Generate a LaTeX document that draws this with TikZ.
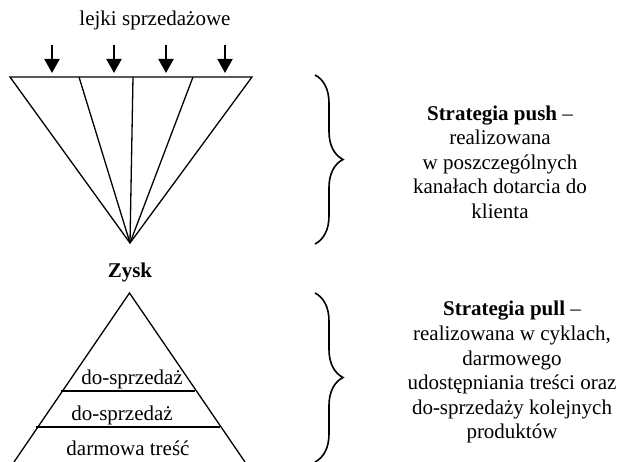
\documentclass[tikz,border=0pt]{standalone}
\usepackage{fontspec}
\setmainfont{Liberation Serif}
\usetikzlibrary{arrows.meta,decorations.pathreplacing}
\tikzset{
  shape line/.style={line width=1.3pt, line join=miter},
  down arrow/.style={line width=2pt, -{Triangle[width=15pt,length=14pt]}},
  strategy brace/.style={line width=1.6pt, decorate, decoration={brace, amplitude=28pt}},
  label text/.style={inner sep=0pt, font=\fontsize{21}{24.6}\selectfont},
  block text/.style={inner sep=0pt, align=center, font=\fontsize{21}{24.6}\selectfont},
}
\begin{document}
\begin{tikzpicture}[x=1pt,y=-1pt]
\useasboundingbox (0,0) rectangle (622,462);
% title
\node[label text, anchor=base] (title) at (155,26) {lejki sprzedażowe};
% arrows
\foreach \i/\x in {1/52,2/114,3/166,4/225}{
  \coordinate (a\i s) at (\x,45);
  \coordinate (a\i e) at (\x,73);
  \draw[down arrow] (a\i s) -- (a\i e);
}
% funnel
\coordinate (fL) at (10,77);
\coordinate (fR) at (252,77);
\coordinate (f1) at (79,77);
\coordinate (f2) at (133,77);
\coordinate (f3) at (193,77);
\coordinate (fA) at (130,243);
\draw[shape line] (fL) -- (fR) -- (fA) -- cycle;
\draw[shape line] (f1) -- (fA);
\draw[shape line] (f2) -- (fA);
\draw[shape line] (f3) -- (fA);
% pyramid
\node[label text, anchor=base, font=\fontsize{21}{24.6}\selectfont\bfseries] (zysk) at (130,278) {Zysk};
\coordinate (pA) at (129.5,293);
\coordinate (pL) at (14,462);
\coordinate (pR) at (245,462);
\draw[shape line] (pL) -- (pA) -- (pR);
\draw[shape line] (61,391) -- (195,391);
\draw[shape line] (36,427) -- (220,427);
\node[label text, anchor=base] (ds1) at (132,385) {do-sprzedaż};
\node[label text, anchor=base] (ds2) at (122,421) {do-sprzedaż};
\node[label text, anchor=base] (dt) at (128,456) {darmowa treść};
% braces
\coordinate (b1t) at (315,75);
\coordinate (b1b) at (315,244);
\coordinate (b2t) at (315,293);
\coordinate (b2b) at (315,462);
\draw[strategy brace] (b1t) -- (b1b);
\draw[strategy brace] (b2t) -- (b2b);
% texts (base anchor = baseline of the last line)
\node[block text, anchor=base] (push) at (500,218.5) {\textbf{Strategia push} –\\realizowana\\w poszczególnych\\kanałach dotarcia do\\klienta};
\node[block text, anchor=base] (pull) at (512,439) {\textbf{Strategia pull} –\\realizowana w cyklach,\\darmowego\\udostępniania treści oraz\\do-sprzedaży kolejnych\\produktów};
\end{tikzpicture}
\end{document}
